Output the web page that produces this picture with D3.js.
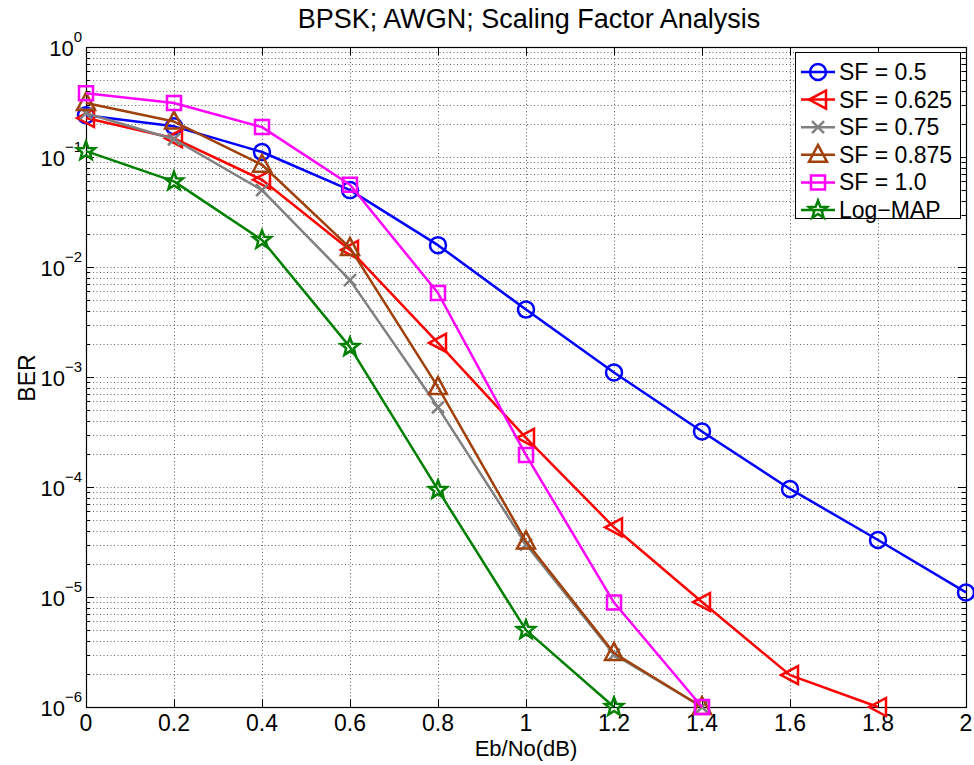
<!DOCTYPE html>
<html>
<head>
<meta charset="utf-8">
<script src="https://cdn.jsdelivr.net/npm/d3@7"></script>
<style>
  body { margin: 0; background: #fff; }
  text { font-family: "Liberation Sans", Arial, Helvetica, sans-serif; }
</style>
</head>
<body>
<div id="chart"></div>
<script>
// x values (Eb/No in dB)
var ebno = [0, 0.2, 0.4, 0.6, 0.8, 1.0, 1.2, 1.4, 1.6, 1.8, 2.0];

// BER values per curve
var sf05   = [0.24, 0.19, 0.111, 0.05, 0.0158, 0.0041, 0.0011, 3.2e-4, 9.6e-5, 3.3e-5, 1.1e-5];
var sf0625 = [0.226, 0.148, 0.062, 0.0143, 0.00204, 2.8e-4, 4.3e-5, 9e-6, 1.95e-6, 1e-6];
var sf075  = [0.25, 0.145, 0.05, 0.0076, 5.3e-4, 3.0e-5, 3.0e-6, 1e-6];
var sf0875 = [0.31, 0.21, 0.085, 0.0149, 8.1e-4, 3.2e-5, 3.1e-6, 1e-6];
var sf10   = [0.38, 0.31, 0.187, 0.056, 0.0058, 1.95e-4, 8.9e-6, 1e-6];
var logmap = [0.113, 0.06, 0.0176, 0.00187, 9.4e-5, 5e-6, 1e-6];

var seriesNames = ["SF = 0.5", "SF = 0.625", "SF = 0.75", "SF = 0.875", "SF = 1.0", "Log\u2212MAP"];
var seriesValues = [sf05, sf0625, sf075, sf0875, sf10, logmap];
var seriesColors = ["#0000ff", "#ff0000", "#808080", "#a0400a", "#ff00ff", "#008000"];
var seriesMarkers = ["circle", "triLeft", "cross", "triUp", "square", "star"];

var xTicks = [0, 0.2, 0.4, 0.6, 0.8, 1, 1.2, 1.4, 1.6, 1.8, 2];
var yExps = [0, -1, -2, -3, -4, -5, -6];

var width = 974, height = 765;
var margin = { left: 86, right: 8, top: 47, bottom: 58 };

var svg = d3.select("#chart").append("svg")
  .attr("width", width)
  .attr("height", height);

var x = d3.scaleLinear().domain([0, 2]).range([margin.left, width - margin.right]);
var y = d3.scaleLog().domain([1e-6, 1]).range([height - margin.bottom, margin.top]);

var x0 = x.range()[0], x1 = x.range()[1];
var y0 = y.range()[0], y1 = y.range()[1];

// grid
var grid = svg.append("g").attr("class", "grid")
  .attr("stroke", "#000")
  .attr("stroke-opacity", 0.6)
  .attr("stroke-width", 1)
  .attr("stroke-dasharray", "1,2.5");

xTicks.slice(1, -1).forEach(function (t) {
  grid.append("line")
    .attr("x1", Math.round(x(t)) + 0.5).attr("x2", Math.round(x(t)) + 0.5)
    .attr("y1", y0).attr("y2", y1);
});

var minorVals = [];
for (var e = -6; e < 0; e++) {
  for (var m = 2; m <= 9; m++) minorVals.push(m * Math.pow(10, e));
}
yExps.slice(1, -1).forEach(function (e) { minorVals.push(Math.pow(10, e)); });
minorVals.forEach(function (v) {
  grid.append("line")
    .attr("x1", x0).attr("x2", x1)
    .attr("y1", Math.round(y(v)) + 0.5).attr("y2", Math.round(y(v)) + 0.5);
});

// ticks, inside the box on all four sides
var ticks = svg.append("g").attr("stroke", "#000").attr("stroke-width", 1);
xTicks.forEach(function (t) {
  var px = Math.round(x(t)) + 0.5;
  ticks.append("line").attr("x1", px).attr("x2", px).attr("y1", y0).attr("y2", y0 - 8);
  ticks.append("line").attr("x1", px).attr("x2", px).attr("y1", y1).attr("y2", y1 + 8);
});
yExps.forEach(function (e) {
  var py = Math.round(y(Math.pow(10, e))) + 0.5;
  ticks.append("line").attr("x1", x0).attr("x2", x0 + 8).attr("y1", py).attr("y2", py);
  ticks.append("line").attr("x1", x1).attr("x2", x1 - 8).attr("y1", py).attr("y2", py);
});
for (var e2 = -6; e2 < 0; e2++) {
  for (var m2 = 2; m2 <= 9; m2++) {
    var py2 = Math.round(y(m2 * Math.pow(10, e2))) + 0.5;
    ticks.append("line").attr("x1", x0).attr("x2", x0 + 4).attr("y1", py2).attr("y2", py2);
    ticks.append("line").attr("x1", x1).attr("x2", x1 - 4).attr("y1", py2).attr("y2", py2);
  }
}

// box
svg.append("rect")
  .attr("x", x0 + 0.5).attr("y", y1 + 0.5)
  .attr("width", x1 - x0).attr("height", y0 - y1)
  .attr("fill", "none").attr("stroke", "#000").attr("stroke-width", 1.2);

// tick labels
svg.append("g").selectAll("text")
  .data(xTicks).enter().append("text")
  .attr("x", function (d) { return x(d); })
  .attr("y", y0 + 24)
  .attr("text-anchor", "middle")
  .attr("font-size", 23)
  .text(function (d) { return d; });

var yl = svg.append("g").selectAll("text")
  .data(yExps).enter().append("text")
  .attr("x", x0 - 4)
  .attr("y", function (d) { return y(Math.pow(10, d)) + 9; })
  .attr("text-anchor", "end")
  .attr("font-size", 22);
yl.append("tspan").text("10");
yl.append("tspan")
  .attr("dy", -14)
  .attr("font-size", 15)
  .text(function (d) { return d === 0 ? "0" : "\u2212" + (-d); });

// titles
svg.append("text")
  .attr("x", (x0 + x1) / 2 + 3).attr("y", 28)
  .attr("text-anchor", "middle").attr("font-size", 27)
  .text("BPSK; AWGN; Scaling Factor Analysis");
svg.append("text")
  .attr("x", (x0 + x1) / 2).attr("y", 756)
  .attr("text-anchor", "middle").attr("font-size", 22)
  .text("Eb/No(dB)");
svg.append("text")
  .attr("transform", "translate(35," + ((y0 + y1) / 2 + 1) + ") rotate(-90)")
  .attr("text-anchor", "middle").attr("font-size", 23)
  .text("BER");

// marker paths
function markerPath(type) {
  switch (type) {
    case "circle":
      return d3.symbol().type(d3.symbolCircle).size(Math.PI * 64)();
    case "square":
      return "M-7,-7L7,-7L7,7L-7,7Z";
    case "triLeft":
      return "M-9,0L8,-9L8,9Z";
    case "triUp":
      return "M0,-10L9,7L-9,7Z";
    case "cross":
      return "M-6,-6L6,6M-6,6L6,-6";
    case "star":
      var pts = [];
      for (var i = 0; i < 10; i++) {
        var r = i % 2 === 0 ? 9.5 : 4;
        var a = -Math.PI / 2 + i * Math.PI / 5;
        pts.push([r * Math.cos(a), r * Math.sin(a)]);
      }
      return "M" + pts.map(function (p) { return p[0].toFixed(2) + "," + p[1].toFixed(2); }).join("L") + "Z";
  }
}

var line = d3.line()
  .x(function (d) { return x(d[0]); })
  .y(function (d) { return y(d[1]); });

var plot = svg.append("g");
seriesValues.forEach(function (vals, i) {
  var pts = vals.map(function (v, j) { return [ebno[j], v]; });
  var g = plot.append("g");
  g.append("path")
    .attr("d", line(pts))
    .attr("fill", "none")
    .attr("stroke", seriesColors[i])
    .attr("stroke-width", 2.5)
    .attr("stroke-linejoin", "round");
  g.selectAll("path.mk")
    .data(pts).enter().append("path")
    .attr("class", "mk")
    .attr("transform", function (d) { return "translate(" + x(d[0]) + "," + y(d[1]) + ")"; })
    .attr("d", markerPath(seriesMarkers[i]))
    .attr("fill", "none")
    .attr("stroke", seriesColors[i])
    .attr("stroke-width", 2.5)
    .attr("stroke-linejoin", "miter");
});

// legend
var lg = svg.append("g");
lg.append("rect")
  .attr("x", 795.5).attr("y", 52.5)
  .attr("width", 165).attr("height", 166)
  .attr("fill", "#fff").attr("stroke", "#000").attr("stroke-width", 1);
seriesNames.forEach(function (name, i) {
  var ly = 72 + i * 27.6;
  lg.append("line")
    .attr("x1", 801).attr("x2", 835)
    .attr("y1", ly).attr("y2", ly)
    .attr("stroke", seriesColors[i]).attr("stroke-width", 2.5);
  lg.append("path")
    .attr("transform", "translate(818," + ly + ")")
    .attr("d", markerPath(seriesMarkers[i]))
    .attr("fill", "none")
    .attr("stroke", seriesColors[i])
    .attr("stroke-width", 2.5);
  lg.append("text")
    .attr("x", 839).attr("y", ly + 8)
    .attr("font-size", 23)
    .text(name);
});
</script>
</body>
</html>
